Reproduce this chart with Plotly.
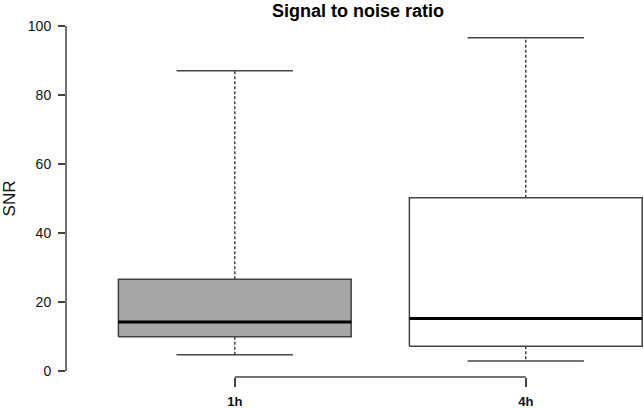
import plotly.graph_objects as go

categories = ["1h", "4h"]
lower_whisker = [4.7, 2.9]
q1 = [9.9, 7.2]
median = [14.2, 15.2]
q3 = [26.6, 50.2]
upper_whisker = [87.0, 96.6]
fill_colors = ["#a6a6a6", "#ffffff"]
y_ticks = [0, 20, 40, 60, 80, 100]

line_col = "#444444"
box_half = 0.4
cap_half = 0.2

fig = go.Figure()
for i, cat in enumerate(categories):
    p = i + 1
    # box
    fig.add_trace(go.Scatter(
        x=[p - box_half, p + box_half, p + box_half, p - box_half, p - box_half],
        y=[q1[i], q1[i], q3[i], q3[i], q1[i]],
        mode="lines", fill="toself", fillcolor=fill_colors[i],
        line=dict(color=line_col, width=1.5), hoverinfo="skip", showlegend=False))
    # whiskers dashed
    fig.add_trace(go.Scatter(
        x=[p, p, None, p, p],
        y=[q3[i], upper_whisker[i], None, q1[i], lower_whisker[i]],
        mode="lines", line=dict(color=line_col, width=1.5, dash="3px,2px"),
        hoverinfo="skip", showlegend=False))
    # caps
    fig.add_trace(go.Scatter(
        x=[p - cap_half, p + cap_half, None, p - cap_half, p + cap_half],
        y=[upper_whisker[i], upper_whisker[i], None, lower_whisker[i], lower_whisker[i]],
        mode="lines", line=dict(color=line_col, width=1.5),
        hoverinfo="skip", showlegend=False))
    # median
    fig.add_trace(go.Scatter(
        x=[p - box_half, p + box_half],
        y=[median[i], median[i]],
        mode="lines", line=dict(color="#000000", width=3),
        hoverinfo="skip", showlegend=False))

# axis lines like R (span first to last tick)
fig.add_shape(type="line", xref="paper", yref="y", x0=0, x1=0,
              y0=y_ticks[0], y1=y_ticks[-1], line=dict(color=line_col, width=1.5))
fig.add_shape(type="line", xref="x", yref="paper", x0=1, x1=len(categories),
              y0=0, y1=0, line=dict(color=line_col, width=1.5))

fig.update_layout(
    width=644, height=408,
    margin=dict(l=66, r=0, t=20, b=31, autoexpand=False),
    plot_bgcolor="white", paper_bgcolor="white",
    font=dict(family="Liberation Sans, Arial, sans-serif", color="#111111"),
    title=dict(text="<b>Signal to noise ratio</b>", x=358 / 644, xref="container",
               y=1 - 10.5 / 408, yref="container", yanchor="middle",
               xanchor="center", font=dict(size=18, color="#000000")),
    xaxis=dict(range=[0.42, 0.42 + 578 / 291], tickvals=[1, 2], ticktext=["<b>1h</b>", "<b>4h</b>"],
               showgrid=False, zeroline=False, showline=False, automargin=False,
               ticks="outside", ticklen=9, tickwidth=1.5, tickcolor=line_col,
               ticklabelstandoff=3,
               tickfont=dict(size=13, color="#111111")),
    yaxis=dict(range=[-1.74, -1.74 + 357 / 3.45], tickvals=y_ticks,
               showgrid=False, zeroline=False, showline=False, automargin=False,
               ticks="outside", ticklen=7, tickwidth=1.5, tickcolor=line_col,
               ticklabelstandoff=4,
               tickfont=dict(size=14, color="#111111"),
               title=dict(text="SNR", font=dict(size=17, color="#111111"), standoff=8)),
)

fig.write_html("out.html", config={"displayModeBar": False},
               post_script="document.body.style.margin='0';")
